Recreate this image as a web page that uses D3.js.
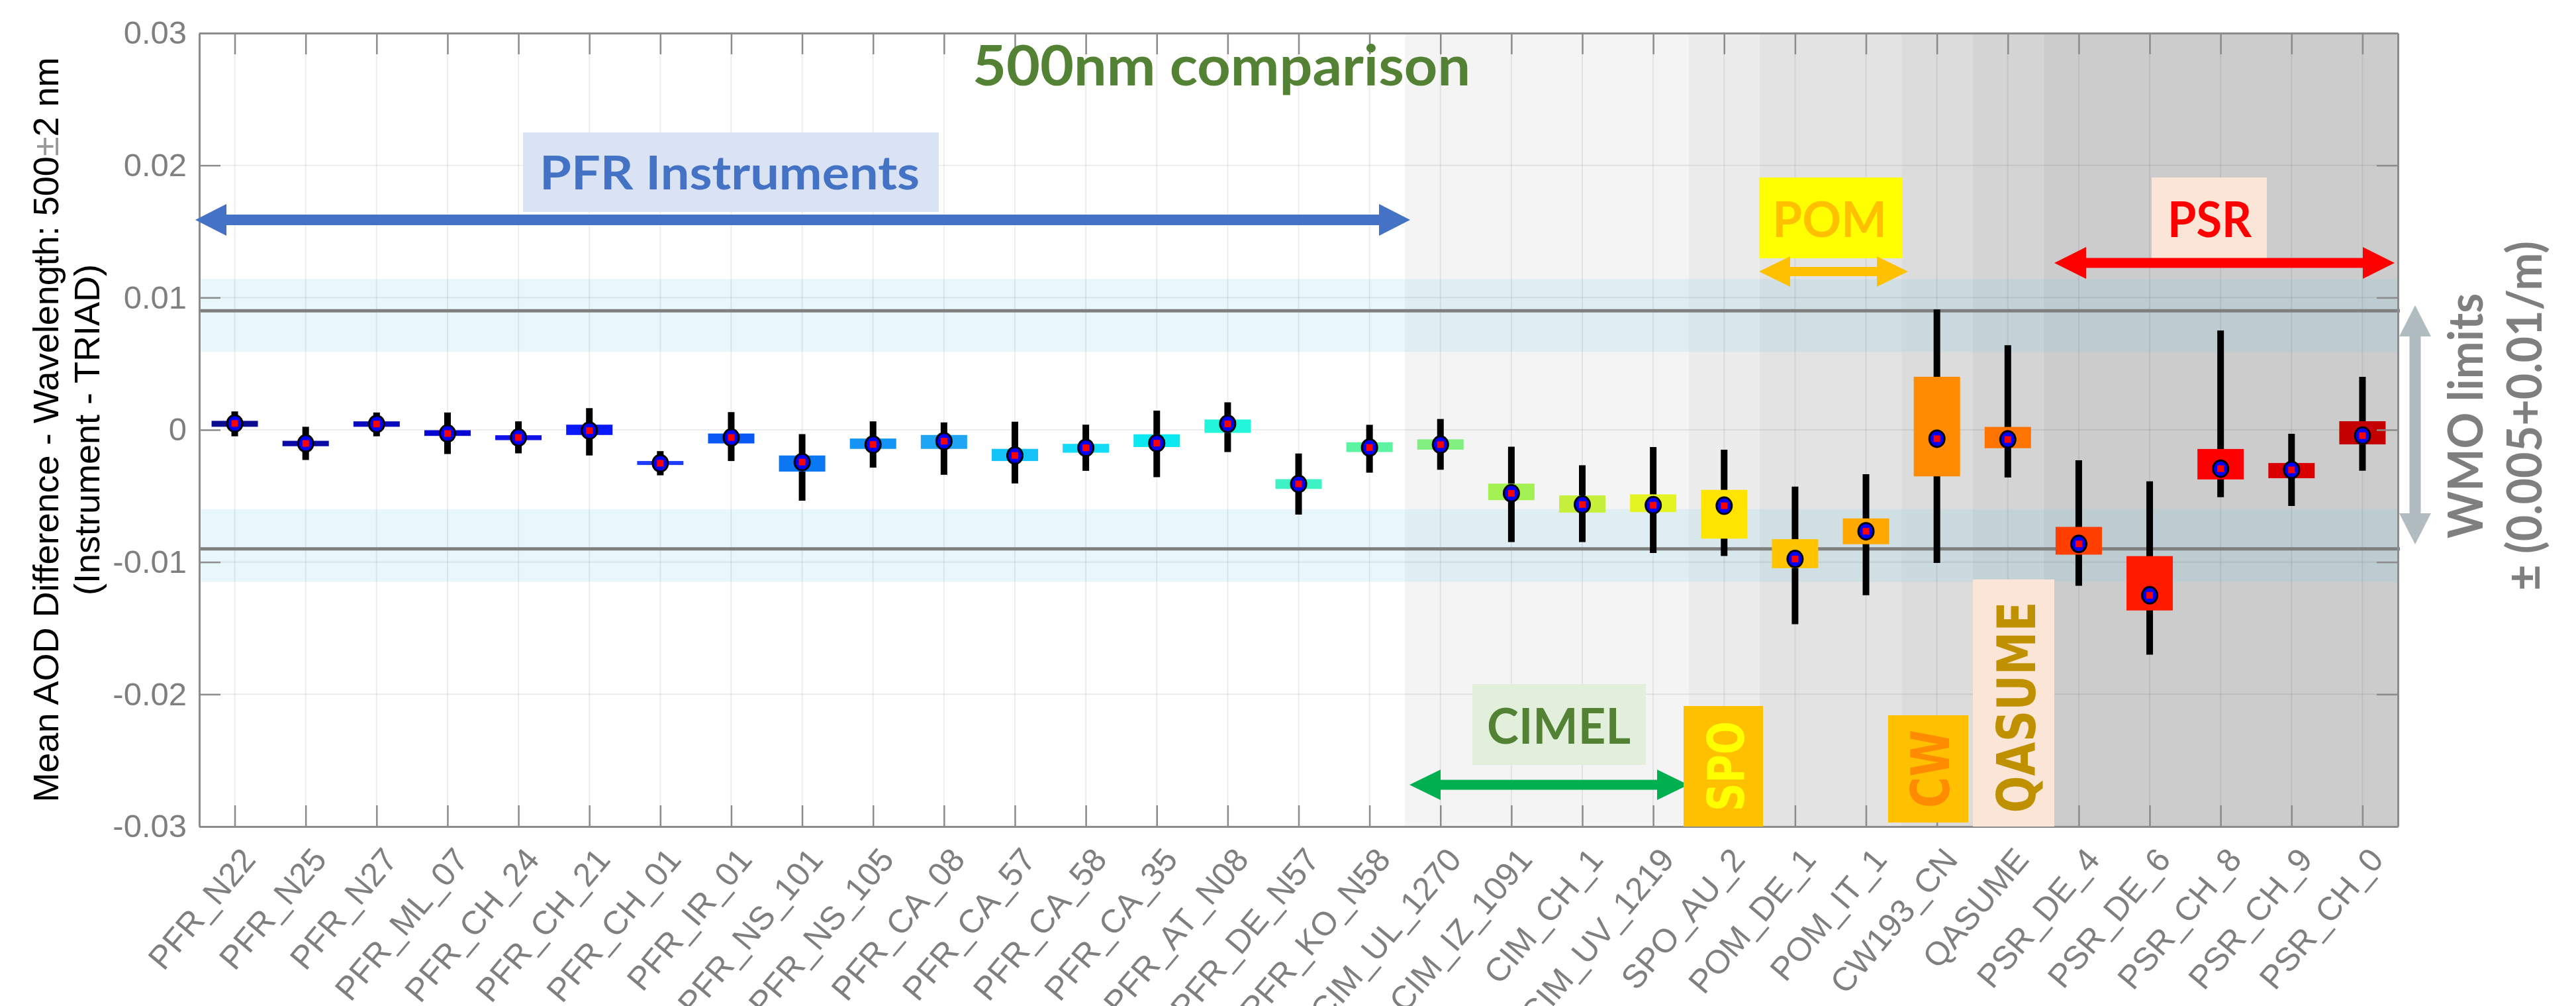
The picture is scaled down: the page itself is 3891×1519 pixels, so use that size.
<!DOCTYPE html>
<html>
<head>
<meta charset="utf-8">
<script src="https://cdn.jsdelivr.net/npm/d3@7"></script>
<style>
body { margin: 0; background: #fff; }
</style>
</head>
<body>
<div id="chart"></div>
<script>
var categories = ['PFR_N22', 'PFR_N25', 'PFR_N27', 'PFR_ML_07', 'PFR_CH_24', 'PFR_CH_21', 'PFR_CH_01',
    'PFR_IR_01', 'PFR_NS_101', 'PFR_NS_105', 'PFR_CA_08', 'PFR_CA_57', 'PFR_CA_58', 'PFR_CA_35',
    'PFR_AT_N08', 'PFR_DE_N57', 'PFR_KO_N58', 'CIM_UL_1270', 'CIM_IZ_1091', 'CIM_CH_1', 'CIM_UV_1219',
    'SPO_AU_2', 'POM_DE_1', 'POM_IT_1', 'CW193_CN', 'QASUME', 'PSR_DE_4', 'PSR_DE_6', 'PSR_CH_8',
    'PSR_CH_9', 'PSR_CH_0'];

var groups = ['PFR', 'PFR', 'PFR', 'PFR', 'PFR', 'PFR', 'PFR', 'PFR', 'PFR', 'PFR', 'PFR', 'PFR', 'PFR',
    'PFR', 'PFR', 'PFR', 'PFR', 'CIM', 'CIM', 'CIM', 'CIM', 'SPO', 'POM', 'POM', 'CW', 'QASUME',
    'PSR', 'PSR', 'PSR', 'PSR', 'PSR'];

// mean AOD difference (dot)
var means = [0.00048, -0.00103, 0.00044, -0.00028, -0.00058, -0.00006, -0.00253, -0.00058, -0.00244,
    -0.00111, -0.00086, -0.00194, -0.00136, -0.00101, 0.00045, -0.00409, -0.00134, -0.00112, -0.0048,
    -0.00565, -0.0057, -0.00574, -0.00977, -0.00767, -0.00067, -0.00073, -0.00863, -0.01251, -0.00294,
    -0.00303, -0.00044];

// coloured box
var boxHigh = [0.00068, -0.00083, 0.00064, -0.00003, -0.00041, 0.00039, -0.00236, -0.00028, -0.00194,
    -0.00066, -0.00039, -0.00144, -0.00106, -0.00034, 0.00078, -0.00373, -0.00094, -0.00072, -0.00407,
    -0.00496, -0.00488, -0.00454, -0.00827, -0.0067, 0.00401, 0.00022, -0.00734, -0.00955, -0.00145,
    -0.00251, 0.00065];
var boxLow = [0.00023, -0.00124, 0.00023, -0.00046, -0.00078, -0.00039, -0.00266, -0.00103, -0.00316,
    -0.00144, -0.00144, -0.00236, -0.00173, -0.0013, -0.00023, -0.00447, -0.00168, -0.0015, -0.00532,
    -0.00626, -0.00622, -0.00823, -0.01046, -0.00865, -0.00352, -0.00139, -0.00944, -0.01366, -0.00375,
    -0.00366, -0.0011];

// black whisker
var whiskerHigh = [0.00139, 0.00023, 0.00131, 0.00131, 0.00064, 0.00164, -0.00161, 0.00134, -0.00033,
    0.00064, 0.00056, 0.00061, 0.00039, 0.00145, 0.00208, -0.00179, 0.00038, 0.00082, -0.00128, -0.00268,
    -0.0013, -0.0015, -0.00429, -0.00335, 0.0091, 0.0064, -0.00231, -0.00389, 0.00751, -0.0003, 0.00401];
var whiskerLow = [-0.00049, -0.00228, -0.00049, -0.00183, -0.00178, -0.00194, -0.00344, -0.00236, -0.00536,
    -0.00286, -0.0034, -0.00406, -0.0031, -0.00358, -0.00168, -0.00641, -0.00324, -0.00302, -0.00849,
    -0.00849, -0.00932, -0.00954, -0.0147, -0.01251, -0.01007, -0.0036, -0.0118, -0.017, -0.0051,
    -0.00576, -0.00309];

var yTicks = [-0.03, -0.02, -0.01, 0, 0.01, 0.02, 0.03];
var wmoLimits = [0.009, -0.009];
var wmoBands = [[0.0059, 0.0114], [-0.0115, -0.006]];

// styles
var boxColors = ['#0c0c90', '#0a0aa6', '#0808bc', '#0606d2', '#1010ea', '#0818f8', '#1e3cff', '#0a58f4',
    '#0a78f2', '#1494f4', '#1ea6f4', '#14c4f8', '#14dcf8', '#0ae8f2', '#22f6da', '#3ef2c6', '#5cf4a2',
    '#82f080', '#a2f052', '#c6f03c', '#e4f422', '#ffe400', '#ffc400', '#ffa800', '#ff8c00', '#ff7400',
    '#ff3e00', '#ff1a00', '#ff0000', '#da0000', '#c40000'];
var groupShade = {PFR: '#ffffff', CIM: '#f4f4f4', SPO: '#ececec', POM: '#e3e3e3', CW: '#dcdcdc',
    QASUME: '#d4d4d4', PSR: '#cccccc'};

var W = 3891, H = 1519;
var plot = {l: 301, r: 3622, t: 50, b: 1248};
var axisColor = '#8c8c8c';
var calibri = 'Lato, "Open Sans", sans-serif';
var helv = '"Liberation Sans", Arial, sans-serif';

var svg = d3.select('#chart').append('svg')
    .attr('width', W).attr('height', H)
    .style('display', 'block');

var x = d3.scaleLinear().domain([-0.5, categories.length - 0.5]).range([plot.l, plot.r]);
var y = d3.scaleLinear().domain([-0.03, 0.03]).range([plot.b, plot.t]);
var idx = d3.range(categories.length);

// background shading per instrument group
var spans = [];
groups.forEach(function(g, i) {
    var last = spans[spans.length - 1];
    if (last && last.name === g) last.end = i;
    else spans.push({name: g, start: i, end: i});
});
svg.selectAll('.shade').data(spans).enter().append('rect')
    .attr('class', 'shade')
    .attr('x', function(d) { return x(d.start - 0.5); })
    .attr('width', function(d) { return x(d.end + 0.5) - x(d.start - 0.5); })
    .attr('y', plot.t).attr('height', plot.b - plot.t)
    .attr('fill', function(d) { return groupShade[d.name]; });

// WMO tolerance bands
svg.selectAll('.band').data(wmoBands).enter().append('rect')
    .attr('x', plot.l).attr('width', plot.r - plot.l)
    .attr('y', function(d) { return y(d[1]); })
    .attr('height', function(d) { return y(d[0]) - y(d[1]); })
    .attr('fill', '#78d0ed').attr('fill-opacity', 0.17);

// grid
svg.selectAll('.vgrid').data(idx).enter().append('line')
    .attr('x1', function(i) { return x(i); }).attr('x2', function(i) { return x(i); })
    .attr('y1', plot.t).attr('y2', plot.b)
    .attr('stroke', '#000').attr('stroke-opacity', 0.07).attr('stroke-width', 2);
svg.selectAll('.hgrid').data(yTicks).enter().append('line')
    .attr('x1', plot.l).attr('x2', plot.r)
    .attr('y1', function(d) { return y(d); }).attr('y2', function(d) { return y(d); })
    .attr('stroke', '#000').attr('stroke-opacity', 0.07).attr('stroke-width', 2);

// WMO limit lines
svg.selectAll('.wmo').data(wmoLimits).enter().append('line')
    .attr('x1', plot.l).attr('x2', plot.r + 3)
    .attr('y1', function(d) { return y(d); }).attr('y2', function(d) { return y(d); })
    .attr('stroke', '#7f7f7f').attr('stroke-width', 5);

// whiskers
svg.selectAll('.whisker').data(idx).enter().append('line')
    .attr('x1', function(i) { return x(i); }).attr('x2', function(i) { return x(i); })
    .attr('y1', function(i) { return y(whiskerHigh[i]); })
    .attr('y2', function(i) { return y(whiskerLow[i]); })
    .attr('stroke', '#000').attr('stroke-width', 10);

// boxes
svg.selectAll('.box').data(idx).enter().append('rect')
    .attr('x', function(i) { return x(i) - 35; }).attr('width', 70)
    .attr('y', function(i) { return y(boxHigh[i]); })
    .attr('height', function(i) { return y(boxLow[i]) - y(boxHigh[i]); })
    .attr('fill', function(i) { return boxColors[i]; });

// mean markers
var mk = svg.selectAll('.mean').data(idx).enter().append('g')
    .attr('transform', function(i) { return 'translate(' + x(i) + ',' + y(means[i]) + ')'; });
mk.append('ellipse').attr('rx', 13).attr('ry', 14).attr('fill', '#000');
mk.append('ellipse').attr('rx', 10).attr('ry', 11).attr('fill', '#0000ff');
mk.append('rect').attr('x', -5).attr('y', -5).attr('width', 10).attr('height', 10).attr('fill', '#ff0000');

// axes
function styleAxis(g) {
    g.select('.domain').attr('stroke', axisColor).attr('stroke-width', 3);
    g.selectAll('.tick line').attr('stroke', axisColor).attr('stroke-width', 2.5);
}

svg.append('g').attr('transform', 'translate(0,' + plot.t + ')')
    .call(d3.axisTop(x).tickValues(idx).tickSize(-32).tickSizeOuter(0).tickFormat(''))
    .call(styleAxis);
svg.append('g').attr('transform', 'translate(' + plot.r + ',0)')
    .call(d3.axisRight(y).tickValues(yTicks).tickSize(-32).tickSizeOuter(0).tickFormat(''))
    .call(styleAxis);

var axL = svg.append('g').attr('transform', 'translate(' + plot.l + ',0)')
    .call(d3.axisLeft(y).tickValues(yTicks).tickSize(-32).tickSizeOuter(0).tickPadding(19)
        .tickFormat(function(d) { return d === 0 ? '0' : d.toFixed(2); }))
    .call(styleAxis);
axL.attr('font-size', 49).attr('font-family', helv);
axL.selectAll('text').attr('fill', '#7f7f7f');

var axB = svg.append('g').attr('transform', 'translate(0,' + plot.b + ')')
    .call(d3.axisBottom(x).tickValues(idx).tickSize(-32).tickSizeOuter(0)
        .tickFormat(function(i) { return categories[i]; }))
    .call(styleAxis);
axB.attr('font-size', 50).attr('font-family', helv);
axB.selectAll('text')
    .attr('x', 0).attr('y', 0).attr('dy', '0.35em')
    .attr('transform', 'translate(20,40) rotate(-50)')
    .attr('text-anchor', 'end')
    .attr('fill', '#7f7f7f');

// y axis label
var yl = svg.append('text')
    .attr('transform', 'translate(88,649) rotate(-90)')
    .attr('text-anchor', 'middle').attr('font-size', 54).attr('font-family', helv);
yl.append('tspan').text('Mean AOD Difference - Wavelength: 500');
yl.append('tspan').attr('fill', '#999').text('±');
yl.append('tspan').text('2 nm');
svg.append('text')
    .attr('transform', 'translate(150,649) rotate(-90)')
    .attr('text-anchor', 'middle').attr('font-size', 54).attr('font-family', helv)
    .text('(Instrument - TRIAD)');

// annotations
function hArrow(x1, x2, yc, t, L, h, color) {
    var p = [[x1, yc], [x1 + L, yc - h], [x1 + L, yc - t / 2], [x2 - L, yc - t / 2], [x2 - L, yc - h],
        [x2, yc], [x2 - L, yc + h], [x2 - L, yc + t / 2], [x1 + L, yc + t / 2], [x1 + L, yc + h]];
    svg.append('polygon').attr('points', p.join(' ')).attr('fill', color);
}
function vArrow(xc, y1, y2, t, L, h, color) {
    var p = [[xc, y1], [xc + h, y1 + L], [xc + t / 2, y1 + L], [xc + t / 2, y2 - L], [xc + h, y2 - L],
        [xc, y2], [xc - h, y2 - L], [xc - t / 2, y2 - L], [xc - t / 2, y1 + L], [xc - h, y1 + L]];
    svg.append('polygon').attr('points', p.join(' ')).attr('fill', color);
}
function label(txt, tx, ty, size, len, color, rotate) {
    return svg.append('text')
        .attr('transform', 'translate(' + tx + ',' + ty + ')' + (rotate ? ' rotate(-90)' : ''))
        .attr('text-anchor', rotate ? 'middle' : 'start')
        .attr('font-family', calibri).attr('font-weight', 700).attr('font-size', size)
        .attr('textLength', len).attr('lengthAdjust', 'spacingAndGlyphs')
        .attr('fill', color).text(txt);
}
function box(x1, y1, x2, y2, color) {
    svg.append('rect').attr('x', x1).attr('y', y1).attr('width', x2 - x1).attr('height', y2 - y1)
        .attr('fill', color);
}

label('500nm comparison', 1469, 129, 85, 752, '#548235');

box(790, 200, 1418, 320, '#dae3f3');
label('PFR Instruments', 815, 286, 71, 574, '#4472c4');
hArrow(295, 2130, 332, 16, 47, 24, '#4472c4');

box(2657, 268, 2874, 390, '#ffff00');
label('POM', 2677, 358, 75, 173, '#ffc000');
hArrow(2657, 2882, 410, 14, 47, 23, '#ffc000');

box(3250, 268, 3424, 390, '#fbe5d6');
label('PSR', 3274, 358, 75, 127, '#ff0000');
hArrow(3103, 3617, 397, 15, 48, 24, '#ff0000');

box(2224, 1033, 2486, 1155, '#e2efda');
label('CIMEL', 2246, 1123, 75, 217, '#548235');
hArrow(2129, 2550, 1185, 15, 47, 23, '#00b050');

var wide = '"DejaVu Sans", Verdana, sans-serif';
box(2543, 1066, 2663, 1248, '#ffc000');
label('SPO', 2634, 1157, 76, 136, '#ffff00', true).attr('font-family', wide);
box(2852, 1080, 2973, 1242, '#ffc000');
label('CW', 2944, 1161, 80, 118, '#ff8c00', true).attr('font-family', wide);
box(2980, 875, 3103, 1248, '#fbe5d6');
label('QASUME', 3074, 1068, 80, 319, '#bf9000', true).attr('font-family', wide);

vArrow(3648, 461, 822, 17, 47, 24, '#b0bcc0');
label('WMO limits', 3750, 628, 72, 370, '#7f7f7f', true);
label('± (0.005+0.01/m)', 3839, 628, 72, 528, '#7f7f7f', true);
</script>
</body>
</html>
